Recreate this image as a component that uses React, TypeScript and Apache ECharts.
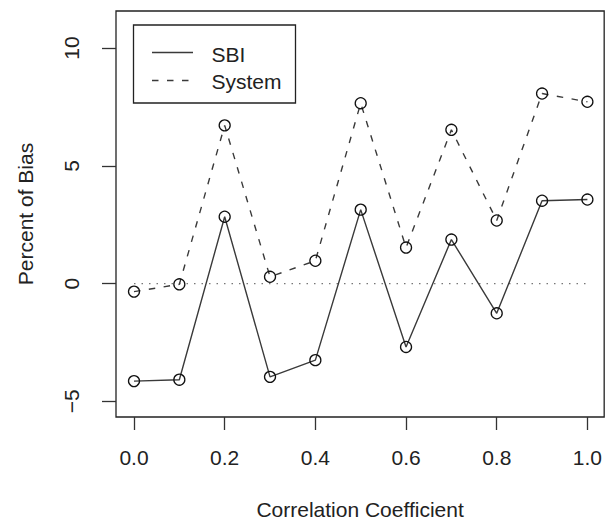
import React, { useEffect, useRef } from "react";
import * as echarts from "echarts";

const xValues = [0, 0.1, 0.2, 0.3, 0.4, 0.5, 0.6, 0.7, 0.8, 0.9, 1.0];
const sbiValues = [-4.14, -4.08, 2.84, -3.96, -3.25, 3.14, -2.69, 1.87, -1.26, 3.52, 3.57];
const systemValues = [-0.34, -0.03, 6.72, 0.29, 0.97, 7.66, 1.53, 6.53, 2.68, 8.07, 7.72];
const zeroLineX = [0, 1];
const xTicks = [0, 0.2, 0.4, 0.6, 0.8, 1.0];
const yTicks = [-5, 0, 5, 10];
const seriesNames = ["SBI", "System"];

const FONT = "Liberation Sans, Arial, Helvetica, sans-serif";

export default function App() {
  const ref = useRef<HTMLDivElement>(null);
  useEffect(() => {
    if (!ref.current) return;
    const chart = echarts.init(ref.current, undefined, { renderer: "svg" });
    const pointStyle = {
      color: "transparent",
      borderColor: "#111",
      borderWidth: 1.3,
    };
    chart.setOption({
      animation: false,
      backgroundColor: "#fff",
      textStyle: { fontFamily: FONT },
      grid: {
        left: 116,
        top: 11,
        right: 0.5,
        bottom: 102.5,
        show: true,
        borderColor: "#222",
        borderWidth: 1.3,
        backgroundColor: "transparent",
      },
      xAxis: {
        type: "value",
        min: -0.0397,
        max: 1.037,
        name: "Correlation Coefficient",
        nameLocation: "middle",
        nameGap: 82,
        nameTextStyle: { fontSize: 21, color: "#222", fontFamily: FONT },
        axisLine: { show: false, onZero: false },
        splitLine: { show: false },
        axisTick: {
          show: true,
          length: 13,
          customValues: xTicks,
          lineStyle: { color: "#333", width: 1.3 },
        },
        axisLabel: {
          customValues: xTicks,
          margin: 30,
          fontSize: 21,
          color: "#222",
          fontFamily: FONT,
          formatter: (v: number) => v.toFixed(1),
        },
      },
      yAxis: {
        type: "value",
        min: -5.664,
        max: 11.575,
        name: "Percent of Bias",
        nameLocation: "middle",
        nameGap: 80,
        nameTextStyle: { fontSize: 21, color: "#222", fontFamily: FONT },
        axisLine: { show: false, onZero: false },
        splitLine: { show: false },
        axisTick: {
          show: true,
          length: 14,
          customValues: yTicks,
          lineStyle: { color: "#333", width: 1.3 },
        },
        axisLabel: {
          customValues: yTicks,
          rotate: 90,
          margin: 34,
          fontSize: 21,
          color: "#222",
          fontFamily: FONT,
          formatter: (v: number) => (v < 0 ? "\u2212" + Math.abs(v) : String(v)),
        },
      },
      series: [
        {
          name: "zero",
          type: "line",
          data: zeroLineX.map((x) => [x, 0]),
          showSymbol: false,
          silent: true,
          lineStyle: { color: "#777", width: 1.2, type: [1.5, 6] },
          z: 1,
        },
        {
          name: seriesNames[0],
          type: "line",
          data: xValues.map((x, i) => [x, sbiValues[i]]),
          symbol: "circle",
          symbolSize: 11,
          itemStyle: pointStyle,
          lineStyle: { color: "#3a3a3a", width: 1.4, type: "solid" },
          z: 3,
        },
        {
          name: seriesNames[1],
          type: "line",
          data: xValues.map((x, i) => [x, systemValues[i]]),
          symbol: "circle",
          symbolSize: 11,
          itemStyle: pointStyle,
          lineStyle: { color: "#3a3a3a", width: 1.4, type: [6.5, 8.5] },
          z: 3,
        },
      ],
      graphic: [
        {
          type: "group",
          z: 100,
          children: [
            {
              type: "rect",
              shape: { x: 133.5, y: 25, width: 162, height: 78 },
              style: { fill: "#fff", stroke: "#222", lineWidth: 1.3 },
            },
            {
              type: "line",
              shape: { x1: 152, y1: 52.5, x2: 193, y2: 52.5 },
              style: { stroke: "#3a3a3a", lineWidth: 1.4 },
            },
            {
              type: "line",
              shape: { x1: 152, y1: 80.5, x2: 193, y2: 80.5 },
              style: { stroke: "#3a3a3a", lineWidth: 1.4, lineDash: [6.5, 8.5] },
            },
            {
              type: "text",
              x: 211.5,
              y: 54,
              style: {
                text: seriesNames[0],
                font: `21px ${FONT}`,
                fill: "#222",
                verticalAlign: "middle",
                align: "left",
              },
            },
            {
              type: "text",
              x: 211.5,
              y: 81,
              style: {
                text: seriesNames[1],
                font: `21px ${FONT}`,
                fill: "#222",
                verticalAlign: "middle",
                align: "left",
              },
            },
          ],
        },
      ],
    });
    return () => chart.dispose();
  }, []);
  return (
    <div
      ref={ref}
      style={{ position: "fixed", left: 0, top: 0, width: 605, height: 525 }}
    />
  );
}
